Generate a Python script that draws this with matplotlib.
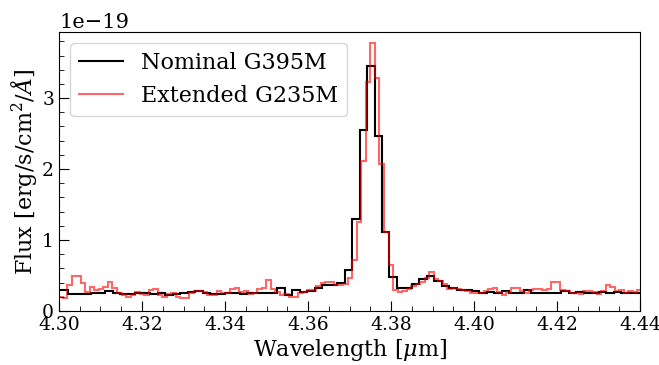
import numpy as np
import matplotlib
matplotlib.use('Agg')
import matplotlib.pyplot as plt
from matplotlib.ticker import MultipleLocator

plt.rc('font', family='DejaVu Serif', size=14)
plt.rc('mathtext', fontset='dejavuserif')

# nominal G395M spectrum (bin edges start + width, flux in 1e-19 erg/s/cm2/A)
nom_start, nom_step = 4.2986, 0.0018
nom_flux = [0.29, 0.29, 0.24, 0.24, 0.24, 0.26, 0.26, 0.28, 0.25, 0.24,
            0.24, 0.25, 0.25, 0.24, 0.25, 0.23, 0.24, 0.25, 0.27, 0.28,
            0.25, 0.24, 0.24, 0.26, 0.25, 0.24, 0.26, 0.25, 0.26, 0.26,
            0.32, 0.23, 0.29, 0.27, 0.28, 0.32, 0.36, 0.37, 0.39, 0.58,
            1.29, 2.55, 3.45, 2.47, 1.11, 0.48, 0.32, 0.32, 0.38, 0.45,
            0.49, 0.42, 0.35, 0.32, 0.30, 0.29, 0.28, 0.26, 0.27, 0.26,
            0.28, 0.25, 0.26, 0.29, 0.26, 0.26, 0.25, 0.26, 0.28, 0.26,
            0.27, 0.26, 0.25, 0.27, 0.26, 0.27, 0.25, 0.26, 0.26]

# extended G235M spectrum
ext_start, ext_step = 4.2998, 0.00109
ext_flux = [0.20, 0.18, 0.36, 0.50, 0.50, 0.39, 0.27, 0.34, 0.30, 0.31,
            0.34, 0.41, 0.32, 0.25, 0.23, 0.19, 0.22, 0.27, 0.24, 0.23,
            0.30, 0.31, 0.22, 0.19, 0.24, 0.25, 0.19, 0.18, 0.18, 0.25,
            0.28, 0.28, 0.27, 0.22, 0.22, 0.28, 0.26, 0.25, 0.31, 0.32,
            0.27, 0.28, 0.24, 0.26, 0.31, 0.32, 0.43, 0.31, 0.27, 0.22,
            0.24, 0.19, 0.19, 0.25, 0.27, 0.29, 0.30, 0.35, 0.40, 0.41,
            0.41, 0.36, 0.37, 0.38, 0.47, 0.72, 1.25, 2.12, 3.22, 3.77,
            3.29, 2.07, 1.11, 0.65, 0.29, 0.27, 0.28, 0.31, 0.35, 0.38,
            0.41, 0.47, 0.55, 0.45, 0.42, 0.38, 0.31, 0.32, 0.31, 0.30,
            0.28, 0.25, 0.25, 0.26, 0.28, 0.31, 0.33, 0.27, 0.22, 0.27,
            0.33, 0.33, 0.28, 0.26, 0.30, 0.31, 0.31, 0.30, 0.31, 0.41,
            0.41, 0.29, 0.28, 0.26, 0.26, 0.24, 0.28, 0.28, 0.27, 0.24,
            0.28, 0.36, 0.34, 0.28, 0.29, 0.26, 0.28, 0.27, 0.29]

nom_edges = nom_start + nom_step * np.arange(len(nom_flux) + 1)
ext_edges = ext_start + ext_step * np.arange(len(ext_flux) + 1)

fig = plt.figure(figsize=(6.59, 3.65), dpi=100)
ax = fig.add_axes([0.0895, 0.148, 0.882, 0.764])

ax.stairs(np.array(nom_flux) * 1e-19, nom_edges, color='black', lw=1.5,
          baseline=None, label='Nominal G395M')
ax.stairs(np.array(ext_flux) * 1e-19, ext_edges, color='red', alpha=0.6, lw=1.5,
          baseline=None, label='Extended G235M')

ax.set_xlim(4.30, 4.44)
ax.set_ylim(0, 3.93e-19)
ax.xaxis.set_major_locator(MultipleLocator(0.02))
ax.xaxis.set_minor_locator(MultipleLocator(0.005))
ax.yaxis.set_major_locator(MultipleLocator(1e-19))
ax.yaxis.set_minor_locator(MultipleLocator(0.2e-19))
ax.tick_params(which='both', direction='in', labelsize=13.5)
ax.tick_params(which='major', length=7)
ax.tick_params(which='minor', length=3.5)
ax.yaxis.get_offset_text().set_fontsize(15)

ax.set_xlabel(r'Wavelength [$\mu$m]', fontsize=16, labelpad=2)
ax.set_ylabel(r'Flux [erg/s/cm$^2$/$\AA$]', fontsize=16, labelpad=2)
ax.legend(loc='upper left', fontsize=16)

fig.savefig('out.png', dpi=100)
